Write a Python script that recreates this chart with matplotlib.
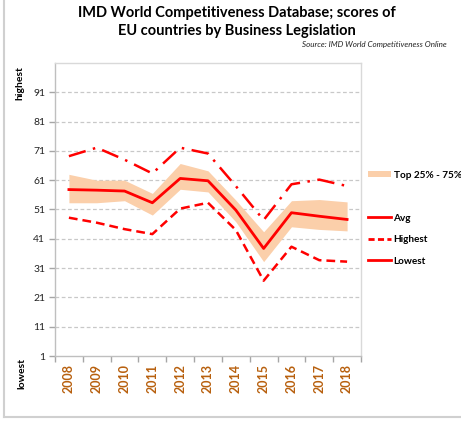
import matplotlib
matplotlib.use("Agg")
import matplotlib.pyplot as plt
from matplotlib.lines import Line2D
from matplotlib.patches import Patch

plt.rcParams['font.family'] = ['Lato', 'DejaVu Sans']

years = ['2008', '2009', '2010', '2011', '2012', '2013', '2014', '2015', '2016', '2017', '2018']
highest = [69.2, 72.1, 68.0, 63.3, 72.1, 70.1, 59.0, 47.4, 59.6, 61.2, 59.0]
avg = [57.8, 57.6, 57.3, 53.3, 61.6, 60.8, 50.8, 37.7, 49.9, 48.7, 47.6]
lowest = [48.2, 46.5, 44.3, 42.6, 51.3, 53.3, 44.0, 26.7, 38.3, 33.7, 33.2]
q75 = [63.0, 61.0, 61.0, 56.5, 66.7, 64.2, 54.2, 43.4, 54.0, 54.4, 53.6]
q25 = [53.3, 53.3, 54.0, 49.1, 57.9, 57.0, 46.8, 33.2, 45.1, 44.2, 43.7]
yticks = [1, 11, 21, 31, 41, 51, 61, 71, 81, 91]

RED = '#FF0000'
BAND = '#FBCFAA'
GRID = '#C8C8C8'
YEARC = '#B8600E'

fig = plt.figure(figsize=(4.61, 4.23), dpi=100)
ax = fig.add_axes([55/461, 1 - 356/423, (361-55)/461, (356-63)/423])

x = list(range(len(years)))
ax.fill_between(x, q25, q75, color=BAND, linewidth=0, zorder=2)
ax.plot(x, avg, color=RED, linewidth=2.0, zorder=4)
ax.plot(x, highest, color=RED, linewidth=1.8, linestyle=(0, (7, 3, 1, 3)), zorder=4)
ax.plot(x, lowest, color=RED, linewidth=1.8, linestyle=(0, (3.5, 2)), zorder=4)

ax.set_xlim(-0.5, len(years) - 0.5)
ax.set_ylim(1, 101)
ax.set_yticks(yticks)
ax.set_yticklabels([str(v) for v in yticks], fontsize=7.5, color='#222222')
ax.set_xticks(x)
ax.set_xticklabels(years, rotation=90, fontsize=9, color=YEARC, fontweight='bold')
ax.set_xticks([i - 0.5 for i in range(len(years) + 1)], minor=True)
ax.tick_params(axis='x', which='major', length=0, pad=6)
ax.tick_params(axis='x', which='minor', length=4, color='#A6A6A6', width=1)
ax.tick_params(axis='y', length=4, color='#A6A6A6', width=1, pad=3)

for v in yticks[1:]:
    ax.axhline(v, color=GRID, linewidth=0.9, linestyle=(0, (3, 2)), zorder=1)

for s in ['top', 'right']:
    ax.spines[s].set_color('#D9D9D9')
    ax.spines[s].set_linewidth(1.0)
for s in ['left', 'bottom']:
    ax.spines[s].set_color('#BFBFBF')
    ax.spines[s].set_linewidth(1.0)

fig.text(237/461, 1 - 13/423, 'IMD World Competitiveness Database; scores of',
         ha='center', va='center', fontsize=10.5, fontweight='bold')
fig.text(237/461, 1 - 31/423, 'EU countries by Business Legislation',
         ha='center', va='center', fontsize=10.5, fontweight='bold')
fig.text(447/461, 1 - 45/423, 'Source: IMD World Competitiveness Online',
         ha='right', va='center', fontsize=5.8, style='italic', color='#222222')

fig.text(20/461, 1 - 83/423, 'highest', rotation=90, ha='center', va='center',
         fontsize=7.5, fontweight='bold')
fig.text(22/461, 1 - 373/423, 'lowest', rotation=90, ha='center', va='center',
         fontsize=7.5, fontweight='bold')

# outer frame
fig.add_artist(Line2D([3.5/461, 3.5/461], [1 - 416.5/423, 1.0], transform=fig.transFigure,
                      color='#D0D0D0', linewidth=1.5))
fig.add_artist(Line2D([3.5/461, 1.0], [1 - 416.5/423, 1 - 416.5/423], transform=fig.transFigure,
                      color='#D0D0D0', linewidth=1.5))

leg1 = fig.legend(handles=[Patch(facecolor=BAND, edgecolor='none')], labels=['Top 25% - 75%'],
                  loc='center left', bbox_to_anchor=(368/461, 1 - 175/423), frameon=False,
                  fontsize=7.2, handlelength=2.3, handleheight=0.5, handletextpad=0.3,
                  borderaxespad=0, borderpad=0)
for t in leg1.get_texts():
    t.set_fontweight('bold')

handles = [Line2D([], [], color=RED, linewidth=2.0),
           Line2D([], [], color=RED, linewidth=2.0, linestyle=(0, (2.2, 1.2))),
           Line2D([], [], color=RED, linewidth=2.0)]
leg2 = fig.legend(handles=handles, labels=['Avg', 'Highest', 'Lowest'],
                  loc='upper left', bbox_to_anchor=(368/461, 1 - 214/423), frameon=False,
                  fontsize=7.2, handlelength=2.3, handletextpad=0.2, labelspacing=1.25,
                  borderaxespad=0, borderpad=0)
for t in leg2.get_texts():
    t.set_fontweight('bold')

fig.savefig('out.png', dpi=100)
